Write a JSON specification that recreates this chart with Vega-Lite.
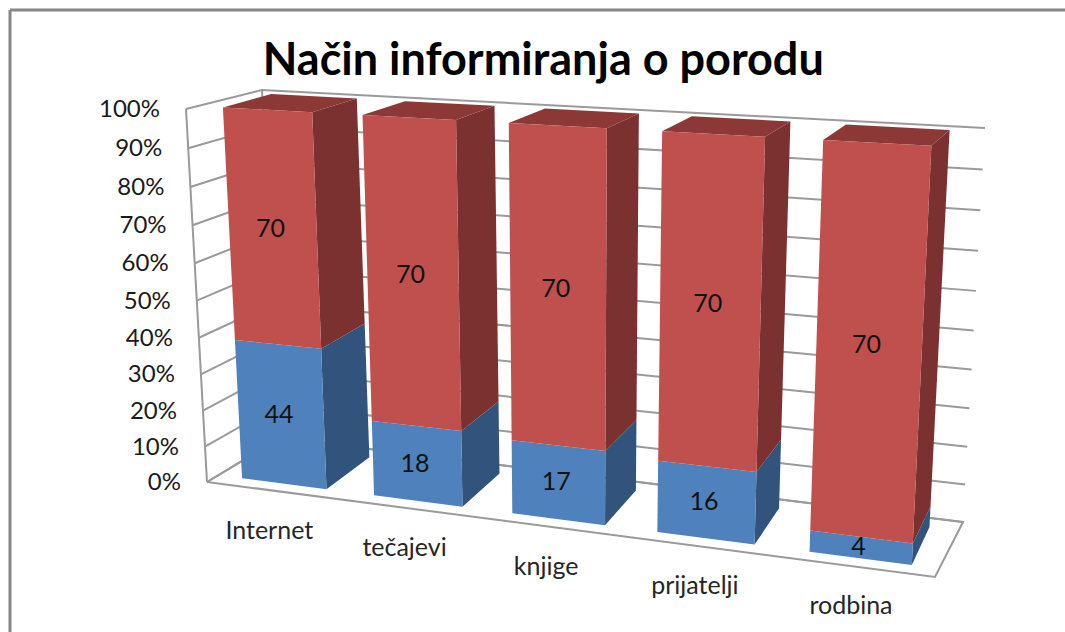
{
"$schema":"https://vega.github.io/schema/vega-lite/v6.json",
"width":1055.5,"height":622.5,"padding":{"left":9.5,"top":9.5,"right":0,"bottom":0},"autosize":{"type":"none"},
"background":"#ffffff","view":{"stroke":null},
"title":{"text":"Način informiranja o porodu","font":"Lato","fontSize":45,"fontWeight":"bold","color":"#000000","anchor":"middle","offset":-74,"dx":6,"frame":"group"},
"datasets":{
"bars":[
{"category":"Internet","series":"serija 1","value":44},{"category":"Internet","series":"serija 2","value":70},
{"category":"tečajevi","series":"serija 1","value":18},{"category":"tečajevi","series":"serija 2","value":70},
{"category":"knjige","series":"serija 1","value":17},{"category":"knjige","series":"serija 2","value":70},
{"category":"prijatelji","series":"serija 1","value":16},{"category":"prijatelji","series":"serija 2","value":70},
{"category":"rodbina","series":"serija 1","value":4},{"category":"rodbina","series":"serija 2","value":70}],
"ticks":[{"pct":0},{"pct":10},{"pct":20},{"pct":30},{"pct":40},{"pct":50},{"pct":60},{"pct":70},{"pct":80},{"pct":90},{"pct":100}],
"edges":[{"edge":"floor"},{"edge":"leftFront"},{"edge":"leftBack"}],
"cats":[{"category":"Internet"},{"category":"tečajevi"},{"category":"knjige"},{"category":"prijatelji"},{"category":"rodbina"}]
},
"encoding":{
"x":{"field":"X","type":"quantitative","scale":{"domain":[9.5,1065],"nice":false,"zero":false},"axis":{"orient":"top","title":null,"labels":false,"ticks":false,"grid":false,"domain":true,"domainColor":"#868686","domainWidth":3}},
"y":{"field":"Y","type":"quantitative","scale":{"domain":[9.5,632],"nice":false,"zero":false,"reverse":true},"axis":{"orient":"left","title":null,"labels":false,"ticks":false,"grid":false,"domain":true,"domainColor":"#868686","domainWidth":3}}
},
"layer":[
{"data":{"name":"edges"},
"transform":[
{"calculate":"datum.edge=='floor'?[[0,0,0],[1,0,0],[1,0,1],[0,0,1],[0,0,0]]:datum.edge=='leftFront'?[[0,0,0],[0,1,0]]:[[0,0,1],[0,1,1]]","as":"pts"},
{"calculate":"[0,1,2,3,4]","as":"vx"},{"flatten":["vx"]},{"filter":"datum.vx<length(datum.pts)"},
{"calculate":"datum.pts[datum.vx][0]","as":"U"},{"calculate":"datum.pts[datum.vx][1]","as":"V"},{"calculate":"datum.pts[datum.vx][2]","as":"W"},
{"calculate":"datum.U*0.887/(1-0.113*datum.U)","as":"s"},{"calculate":"datum.V*0.946/(1-0.054*datum.V)","as":"t"},
{"calculate":"(1-datum.W)*((1-datum.s)*((1-datum.t)*207+datum.t*186)+datum.s*((1-datum.t)*935+datum.t*956))+datum.W*((1-datum.s)*((1-datum.t)*280+datum.t*262)+datum.s*((1-datum.t)*963+datum.t*985))","as":"X"},
{"calculate":"(1-datum.W)*((1-datum.s)*((1-datum.t)*482+datum.t*109)+datum.s*((1-datum.t)*577+datum.t*151))+datum.W*((1-datum.s)*((1-datum.t)*438+datum.t*90)+datum.s*((1-datum.t)*522+datum.t*128))","as":"Y"}],
"mark":{"type":"line","stroke":"#9a9a9a","strokeWidth":2,"clip":false},
"encoding":{"detail":{"field":"edge"},"order":{"field":"vx"}}},
{"data":{"name":"ticks"},
"transform":[
{"calculate":"[0,1,2]","as":"vx"},{"flatten":["vx"]},
{"calculate":"datum.vx==2?1:0","as":"U"},{"calculate":"datum.pct/100","as":"V"},{"calculate":"datum.vx==0?0:1","as":"W"},
{"calculate":"datum.U*0.887/(1-0.113*datum.U)","as":"s"},{"calculate":"datum.V*0.946/(1-0.054*datum.V)","as":"t"},
{"calculate":"(1-datum.W)*((1-datum.s)*((1-datum.t)*207+datum.t*186)+datum.s*((1-datum.t)*935+datum.t*956))+datum.W*((1-datum.s)*((1-datum.t)*280+datum.t*262)+datum.s*((1-datum.t)*963+datum.t*985))","as":"X"},
{"calculate":"(1-datum.W)*((1-datum.s)*((1-datum.t)*482+datum.t*109)+datum.s*((1-datum.t)*577+datum.t*151))+datum.W*((1-datum.s)*((1-datum.t)*438+datum.t*90)+datum.s*((1-datum.t)*522+datum.t*128))","as":"Y"}],
"mark":{"type":"line","stroke":"#9a9a9a","strokeWidth":2},
"encoding":{"detail":{"field":"pct"},"order":{"field":"vx"}}},
{"data":{"name":"bars"},
"transform":[
{"joinaggregate":[{"op":"sum","field":"value","as":"total"}],"groupby":["category"]},
{"stack":"value","groupby":["category"],"sort":[{"field":"series","order":"ascending"}],"as":["a0","a1"]},
{"calculate":"indexof(['Internet','tečajevi','knjige','prijatelji','rodbina'],datum.category)","as":"i"},
{"calculate":"(datum.i+0.5)/5-0.063","as":"U0"},{"calculate":"(datum.i+0.5)/5+0.066","as":"U1"},
{"calculate":"datum.a0/datum.total","as":"V0"},{"calculate":"datum.a1/datum.total","as":"V1"},
{"calculate":"['top','side','front']","as":"face"},{"flatten":["face"]},
{"filter":"datum.face!='top'||datum.series=='serija 2'"},
{"calculate":"[0,1,2,3]","as":"vx"},{"flatten":["vx"]},
{"calculate":"datum.vx==1||datum.vx==2","as":"a"},{"calculate":"datum.vx>=2","as":"b"},
{"calculate":"datum.face=='side'?datum.U1:(datum.a?datum.U1:datum.U0)","as":"U"},
{"calculate":"datum.face=='top'?datum.V1:(datum.b?datum.V1:datum.V0)","as":"V"},
{"calculate":"datum.face=='front'?0.155:datum.face=='side'?(datum.a?0.845:0.155):(datum.b?0.845:0.155)","as":"W"},
{"calculate":"datum.series+' '+datum.face","as":"key"},
{"calculate":"datum.category+' '+datum.key","as":"poly"},
{"calculate":"datum.U*0.887/(1-0.113*datum.U)-(datum.W-0.155)*0.006","as":"s"},{"calculate":"datum.V*0.946/(1-0.054*datum.V)","as":"t"},
{"calculate":"(1-datum.W)*((1-datum.s)*((1-datum.t)*207+datum.t*186)+datum.s*((1-datum.t)*935+datum.t*956))+datum.W*((1-datum.s)*((1-datum.t)*280+datum.t*262)+datum.s*((1-datum.t)*963+datum.t*985))","as":"X"},
{"calculate":"(1-datum.W)*((1-datum.s)*((1-datum.t)*482+datum.t*109)+datum.s*((1-datum.t)*577+datum.t*151))+datum.W*((1-datum.s)*((1-datum.t)*438+datum.t*90)+datum.s*((1-datum.t)*522+datum.t*128))","as":"Y"}],
"mark":{"type":"line","strokeWidth":0,"interpolate":"linear"},
"encoding":{"detail":{"field":"poly"},"order":{"field":"vx"},
"fill":{"field":"key","type":"nominal","legend":null,"scale":{"domain":["serija 1 side","serija 1 front","serija 2 top","serija 2 side","serija 2 front"],"range":["#32547c","#4f81bd","#8c3836","#7b3130","#c0504d"]}}}},
{"data":{"name":"bars"},
"transform":[
{"joinaggregate":[{"op":"sum","field":"value","as":"total"}],"groupby":["category"]},
{"stack":"value","groupby":["category"],"sort":[{"field":"series","order":"ascending"}],"as":["a0","a1"]},
{"calculate":"indexof(['Internet','tečajevi','knjige','prijatelji','rodbina'],datum.category)","as":"i"},
{"calculate":"(datum.i+0.5)/5","as":"U"},{"calculate":"(datum.a0+datum.a1)/2/datum.total","as":"V"},{"calculate":"0.155","as":"W"},
{"calculate":"datum.U*0.887/(1-0.113*datum.U)","as":"s"},{"calculate":"datum.V*0.946/(1-0.054*datum.V)","as":"t"},
{"calculate":"(1-datum.W)*((1-datum.s)*((1-datum.t)*207+datum.t*186)+datum.s*((1-datum.t)*935+datum.t*956))+datum.W*((1-datum.s)*((1-datum.t)*280+datum.t*262)+datum.s*((1-datum.t)*963+datum.t*985))","as":"X"},
{"calculate":"(1-datum.W)*((1-datum.s)*((1-datum.t)*482+datum.t*109)+datum.s*((1-datum.t)*577+datum.t*151))+datum.W*((1-datum.s)*((1-datum.t)*438+datum.t*90)+datum.s*((1-datum.t)*522+datum.t*128))","as":"Y"}],
"mark":{"type":"text","font":"Lato","fontSize":25,"color":"#111111","align":"center","baseline":"middle","dx":-1,"dy":0},
"encoding":{"text":{"field":"value","type":"quantitative"}}},
{"data":{"name":"ticks"},
"transform":[
{"calculate":"0","as":"U"},{"calculate":"datum.pct/100","as":"V"},{"calculate":"0","as":"W"},{"calculate":"datum.pct+'%'","as":"label"},
{"calculate":"datum.U*0.887/(1-0.113*datum.U)","as":"s"},{"calculate":"datum.V*0.946/(1-0.054*datum.V)","as":"t"},
{"calculate":"(1-datum.W)*((1-datum.s)*((1-datum.t)*207+datum.t*186)+datum.s*((1-datum.t)*935+datum.t*956))+datum.W*((1-datum.s)*((1-datum.t)*280+datum.t*262)+datum.s*((1-datum.t)*963+datum.t*985))","as":"X"},
{"calculate":"(1-datum.W)*((1-datum.s)*((1-datum.t)*482+datum.t*109)+datum.s*((1-datum.t)*577+datum.t*151))+datum.W*((1-datum.s)*((1-datum.t)*438+datum.t*90)+datum.s*((1-datum.t)*522+datum.t*128))","as":"Y"}],
"mark":{"type":"text","font":"Lato","fontSize":24,"color":"#1a1a1a","align":"right","baseline":"middle","dx":-26,"dy":1},
"encoding":{"text":{"field":"label","type":"nominal"}}},
{"data":{"name":"cats"},
"transform":[
{"calculate":"indexof(['Internet','tečajevi','knjige','prijatelji','rodbina'],datum.category)","as":"i"},
{"calculate":"(datum.i+0.5)/5","as":"U"},{"calculate":"0","as":"V"},{"calculate":"0","as":"W"},
{"calculate":"datum.U*0.887/(1-0.113*datum.U)","as":"s"},{"calculate":"datum.V*0.946/(1-0.054*datum.V)","as":"t"},
{"calculate":"(1-datum.W)*((1-datum.s)*((1-datum.t)*207+datum.t*186)+datum.s*((1-datum.t)*935+datum.t*956))+datum.W*((1-datum.s)*((1-datum.t)*280+datum.t*262)+datum.s*((1-datum.t)*963+datum.t*985))","as":"X"},
{"calculate":"(1-datum.W)*((1-datum.s)*((1-datum.t)*482+datum.t*109)+datum.s*((1-datum.t)*577+datum.t*151))+datum.W*((1-datum.s)*((1-datum.t)*438+datum.t*90)+datum.s*((1-datum.t)*522+datum.t*128))","as":"Y"}],
"mark":{"type":"text","font":"Lato","fontSize":25,"color":"#262626","align":"center","baseline":"middle","dx":-3,"dy":40},
"encoding":{"text":{"field":"category","type":"nominal"}}}
]
}
